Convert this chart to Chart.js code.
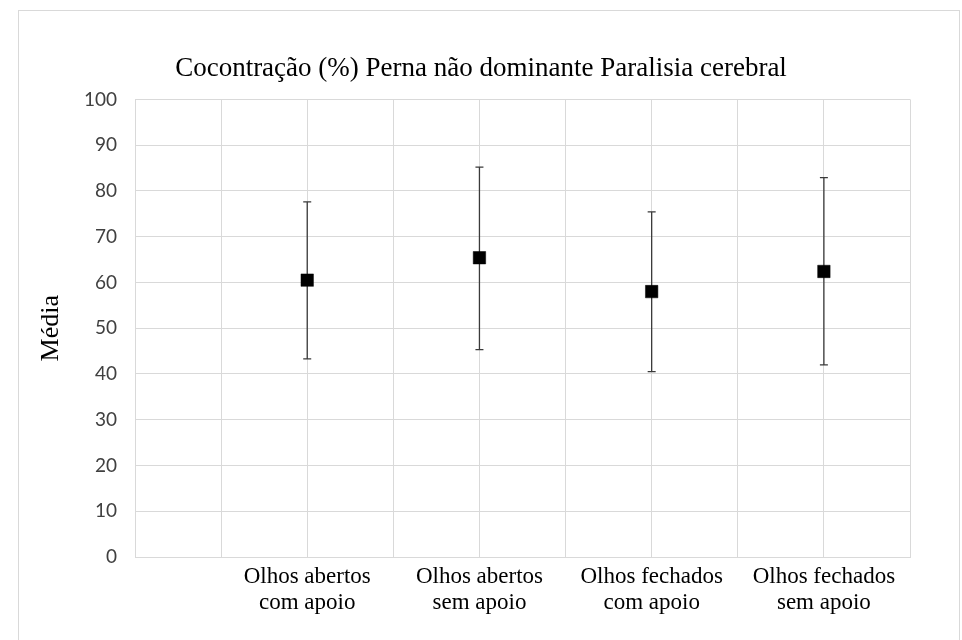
<!DOCTYPE html>
<html>
<head>
<meta charset="utf-8">
<script src="https://cdn.jsdelivr.net/npm/chart.js@4/dist/chart.umd.min.js"></script>
<style>
  html, body { margin: 0; padding: 0; background: #ffffff; }
  #wrap { position: relative; width: 962px; height: 640px; overflow: hidden; }
  #frame { position: absolute; left: 18px; top: 10px; width: 942px; height: 660px;
           border: 1px solid #d9d9d9; box-sizing: border-box; }
  #c { position: absolute; left: 0; top: 0; }
</style>
</head>
<body>
<div id="wrap">
  <div id="frame"></div>
  <canvas id="c" width="962" height="640"></canvas>
</div>
<script>
// Conditions (two-line category labels)
const categories = [
  ['Olhos abertos', 'com apoio'],
  ['Olhos abertos', 'sem apoio'],
  ['Olhos fechados', 'com apoio'],
  ['Olhos fechados', 'sem apoio']
];
// Mean co-contraction (%) and the ends of each error bar
const means = [60.5, 65.4, 58.0, 62.4];
const upper = [77.6, 85.2, 75.4, 82.9];
const lower = [43.3, 45.3, 40.5, 42.0];
// Value axis ticks
const yTicks = [0, 10, 20, 30, 40, 50, 60, 70, 80, 90, 100];

// Each condition sits on every second slot of a 0..9 grid
const slotOf = i => 2 * (i + 1);
const points = means.map((m, i) => ({ x: slotOf(i), y: m }));

const GRID = '#d9d9d9';

// Vertical error bars with small caps, drawn under the markers
const errorBars = {
  id: 'errorBars',
  beforeDatasetsDraw(chart) {
    const { ctx, scales: { x, y } } = chart;
    ctx.save();
    ctx.strokeStyle = '#3a3a3a';
    ctx.lineWidth = 1.3;
    means.forEach((m, i) => {
      const px = x.getPixelForValue(slotOf(i));
      const top = y.getPixelForValue(upper[i]);
      const bot = y.getPixelForValue(lower[i]);
      ctx.beginPath();
      ctx.moveTo(px, top); ctx.lineTo(px, bot);
      ctx.moveTo(px - 4, top); ctx.lineTo(px + 4, top);
      ctx.moveTo(px - 4, bot); ctx.lineTo(px + 4, bot);
      ctx.stroke();
    });
    ctx.restore();
  }
};

new Chart(document.getElementById('c'), {
  type: 'scatter',
  data: {
    datasets: [{
      data: points,
      pointStyle: 'rect',
      pointRadius: 8.8,
      pointHoverRadius: 8.8,
      backgroundColor: '#000000',
      borderColor: '#000000',
      borderWidth: 0.5
    }]
  },
  options: {
    responsive: false,
    animation: false,
    devicePixelRatio: 1,
    layout: { padding: { left: 0, right: 0, top: 0, bottom: 0 } },
    plugins: {
      legend: { display: false },
      tooltip: { enabled: false },
      title: {
        display: true,
        text: 'Cocontração (%) Perna não dominante Paralisia cerebral',
        color: '#000000',
        font: { family: 'Liberation Serif', size: 27, weight: 'normal', lineHeight: 1.2 },
        padding: { top: 53, bottom: 14 }
      }
    },
    scales: {
      x: {
        type: 'linear',
        min: 0,
        max: 9,
        afterBuildTicks(scale) {
          scale.ticks = Array.from({ length: 10 }, (_, v) => ({ value: v }));
        },
        afterFit(scale) { scale.height = 83; },
        grid: { color: GRID, drawTicks: false, lineWidth: 1 },
        border: { color: GRID },
        ticks: {
          autoSkip: false,
          maxRotation: 0,
          minRotation: 0,
          padding: 6,
          color: '#000000',
          font: { family: 'Liberation Serif', size: 23, lineHeight: 1.17 },
          callback(value) {
            const i = value / 2 - 1;
            return Number.isInteger(i) && categories[i] ? categories[i] : '';
          }
        }
      },
      y: {
        min: 0,
        max: 100,
        afterBuildTicks(scale) {
          scale.ticks = yTicks.map(v => ({ value: v }));
        },
        afterFit(scale) { scale.width = 135; },
        grid: { color: GRID, drawTicks: false, lineWidth: 1 },
        border: { color: GRID },
        ticks: {
          padding: 18,
          color: '#404040',
          font: { family: 'Lato', size: 19 }
        },
        title: {
          display: true,
          text: 'Média',
          color: '#000000',
          font: { family: 'Liberation Serif', size: 26, lineHeight: 1.2 },
          padding: { top: 36, bottom: 0 }
        }
      },
      // empty right-hand axis that reserves the margin beside the plot
      yRight: {
        position: 'right',
        display: true,
        afterFit(scale) { scale.width = 52; },
        grid: { display: false },
        border: { display: false },
        ticks: { display: false }
      }
    }
  },
  plugins: [errorBars]
});
</script>
</body>
</html>
